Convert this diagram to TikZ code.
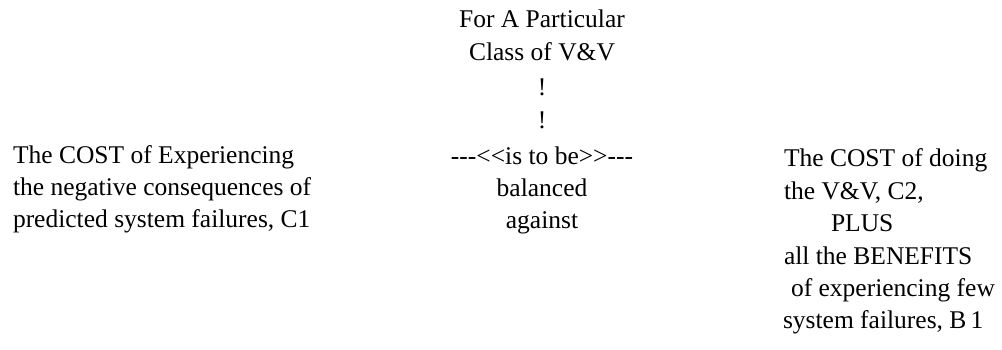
\documentclass[tikz,border=0pt]{standalone}
\usepackage{fontspec}
\setmainfont{Liberation Serif}
\begin{document}
\begin{tikzpicture}[x=1pt,y=1pt,
  txt/.style={inner sep=0pt,outer sep=0pt,font=\fontsize{25.5}{30}\selectfont},
  lft/.style={txt,anchor=base west},
  mid/.style={txt,anchor=base}]
\useasboundingbox (0,0) rectangle (1002,350);
% centre column
\node[mid] (c1) at (542,322) {For A Particular};
\node[mid] (c2) at (542,289) {Class of V\&V};
\node[mid] (c3) at (542,254) {!};
\node[mid] (c4) at (542,221) {!};
\node[mid] (c5) at (542,185) {-{}-{}-<{}<is to be>{}>-{}-{}-};
\node[mid] (c6) at (542,153) {balanced};
\node[mid] (c7) at (542,121) {against};
% left column
\node[lft] (l1) at (13,186) {The COST of Experiencing};
\node[lft] (l2) at (13,154) {the negative consequences of};
\node[lft] (l3) at (13,122) {predicted system failures, C1};
% right column
\node[lft] (r1) at (784,183) {The COST of doing};
\node[lft] (r2) at (784,150.6) {the V\&V, C2,};
\node[lft] (r3) at (831,118.2) {PLUS};
\node[lft] (r4) at (784,85.8) {all the BENEFITS};
\node[lft] (r5) at (791,53.4) {of experiencing few};
\node[lft] (r6) at (783,21) {system failures, B\,1};
\end{tikzpicture}
\end{document}
